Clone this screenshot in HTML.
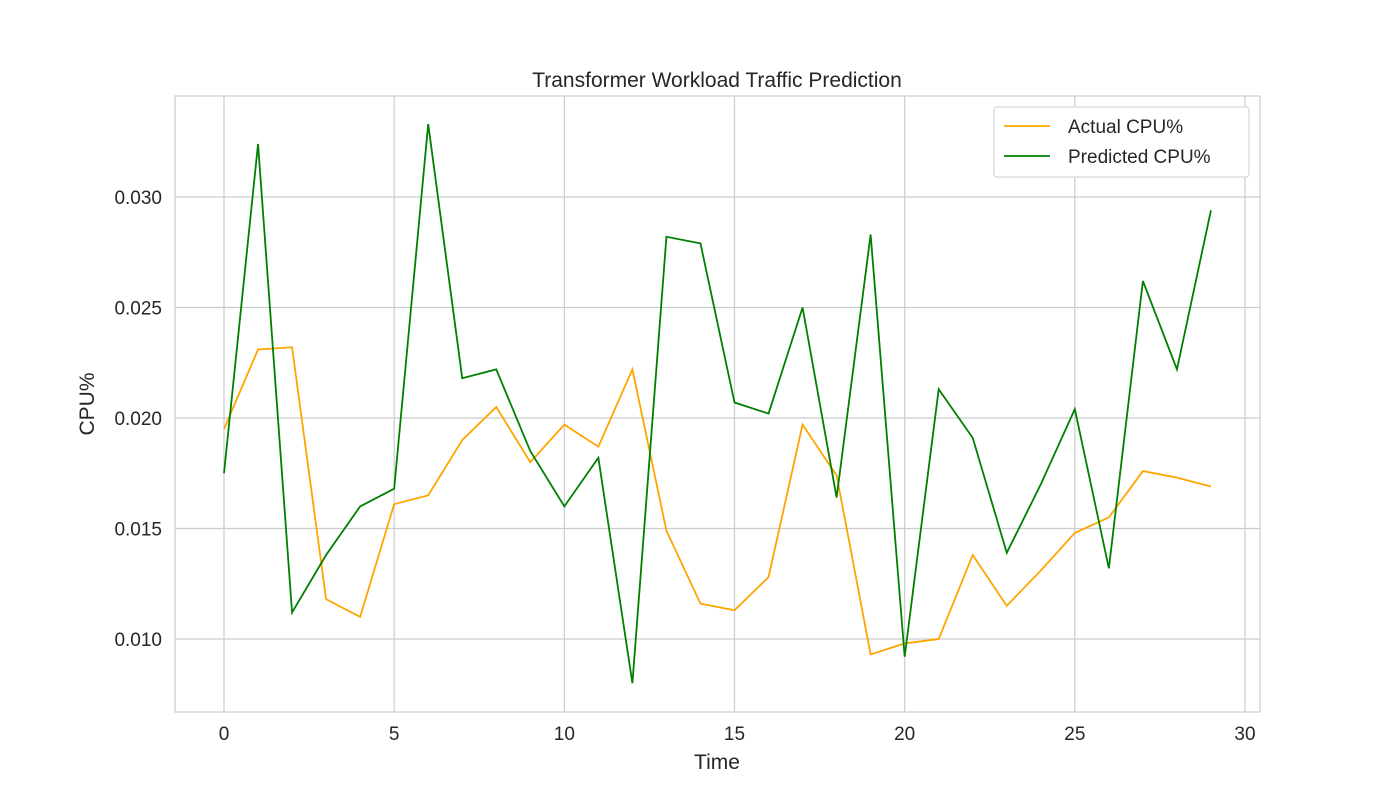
<!DOCTYPE html>
<html><head><meta charset="utf-8">
<style>
html,body{margin:0;padding:0;background:#fff;}
svg text{font-family:"Liberation Sans",Arial,sans-serif;fill:#262626;}
</style></head>
<body>
<svg id="chart" width="1400" height="800" xmlns="http://www.w3.org/2000/svg">
<rect x="0" y="0" width="1400" height="800" fill="#fff"/>
<g id="grid"></g>
<g id="series"></g>
<rect x="175" y="96" width="1085" height="616" fill="none" stroke="#cccccc" stroke-width="1.2"/>
<g id="ticks"></g>
<text x="717" y="87" font-size="21" text-anchor="middle">Transformer Workload Traffic Prediction</text>
<text x="717" y="769" font-size="21" text-anchor="middle">Time</text>
<text x="94" y="404" font-size="21" text-anchor="middle" transform="rotate(-90 94 404)">CPU%</text>
<g>
<rect x="994" y="107" width="255" height="70" rx="3" fill="#fff" stroke="#cccccc"/>
<line x1="1004" y1="126" x2="1050" y2="126" stroke="orange" stroke-width="1.8"/>
<text x="1068" y="133" font-size="19">Actual CPU%</text>
<line x1="1004" y1="156" x2="1050" y2="156" stroke="green" stroke-width="1.8"/>
<text x="1068" y="163" font-size="19">Predicted CPU%</text>
</g>
</svg>
<script>
const times = [0,1,2,3,4,5,6,7,8,9,10,11,12,13,14,15,16,17,18,19,20,21,22,23,24,25,26,27,28,29];
const actualCpu = [0.0195,0.0231,0.0232,0.0118,0.0110,0.0161,0.0165,0.0190,0.0205,0.0180,0.0197,0.0187,0.0222,0.0149,0.0116,0.0113,0.0128,0.0197,0.0174,0.0093,0.0098,0.0100,0.0138,0.0115,0.0131,0.0148,0.0155,0.0176,0.0173,0.0169];
const predictedCpu = [0.0175,0.0324,0.0112,0.0138,0.0160,0.0168,0.0333,0.0218,0.0222,0.0185,0.0160,0.0182,0.0080,0.0282,0.0279,0.0207,0.0202,0.0250,0.0164,0.0283,0.0092,0.0213,0.0191,0.0139,0.0170,0.0204,0.0132,0.0262,0.0222,0.0294];
const xTicks = [0,5,10,15,20,25,30];
const yTicks = [0.010,0.015,0.020,0.025,0.030];
const yTickLabels = ["0.010","0.015","0.020","0.025","0.030"];

const NS="http://www.w3.org/2000/svg";
function xs(v){return 224 + (v-0)*(1245-224)/30;}
function ys(v){return 639 - (v-0.010)*(639-197)/0.020;}
const grid=document.getElementById('grid'), ticks=document.getElementById('ticks'), series=document.getElementById('series');
xTicks.forEach(t=>{
  const l=document.createElementNS(NS,'line');
  
  
  l.setAttribute('x1',xs(t));l.setAttribute('x2',xs(t));l.setAttribute('y1',96);l.setAttribute('y2',712);
  l.setAttribute('stroke','#cccccc');l.setAttribute('stroke-width','1.2');grid.appendChild(l);
  const tx=document.createElementNS(NS,'text');
  
  
  tx.setAttribute('x',xs(t));tx.setAttribute('y',740);tx.setAttribute('font-size','19');tx.setAttribute('text-anchor','middle');
  tx.textContent=t;ticks.appendChild(tx);
});
yTicks.forEach((t,i)=>{
  const l=document.createElementNS(NS,'line');
  
  
  l.setAttribute('x1',175);l.setAttribute('x2',1260);l.setAttribute('y1',ys(t));l.setAttribute('y2',ys(t));
  l.setAttribute('stroke','#cccccc');l.setAttribute('stroke-width','1.2');grid.appendChild(l);
  const tx=document.createElementNS(NS,'text');
  
  
  tx.setAttribute('x',162);tx.setAttribute('y',ys(t)+7);tx.setAttribute('font-size','19');tx.setAttribute('text-anchor','end');
  tx.textContent=yTickLabels[i];ticks.appendChild(tx);
});
function line(vals,color,name){
  const p=document.createElementNS(NS,'polyline');
  
  
  p.setAttribute('points',vals.map((v,i)=>xs(times[i])+','+ys(v)).join(' '));
  p.setAttribute('fill','none');p.setAttribute('stroke',color);p.setAttribute('stroke-width','1.8');
  series.appendChild(p);
}
line(actualCpu,'orange','actual-cpu-line');
line(predictedCpu,'green','predicted-cpu-line');
</script>
</body></html>
